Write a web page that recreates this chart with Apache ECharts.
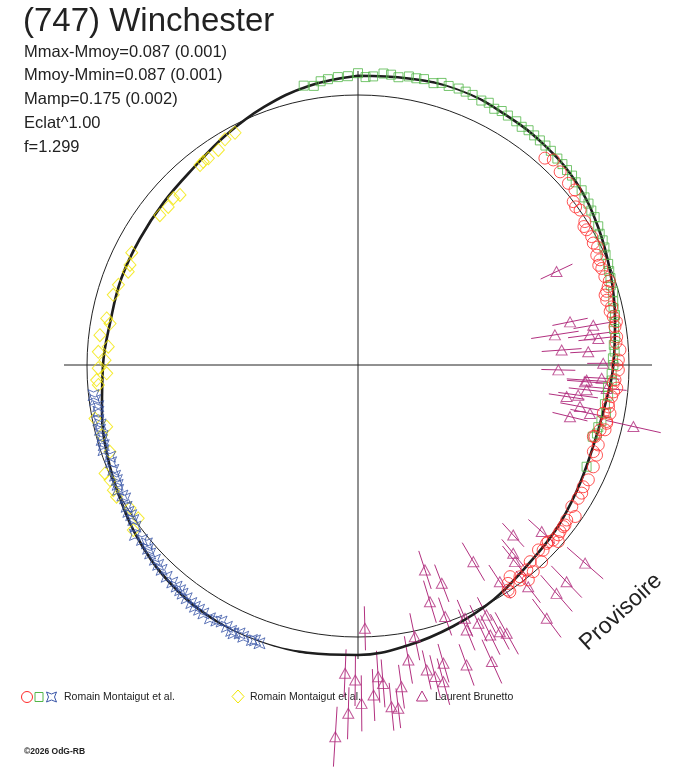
<!DOCTYPE html>
<html>
<head>
<meta charset="utf-8">
<script src="https://cdn.jsdelivr.net/npm/echarts@6/dist/echarts.min.js"></script>
<style>
html,body{margin:0;padding:0;background:#fff;}
#chart{width:688px;height:768px;}
</style>
</head>
<body>
<div id="chart"></div>
<script>
// points are [phase angle in degrees (0 = top, clockwise), relative magnitude]
// positive magnitude = fainter = drawn towards the centre
var fitCurve = [[0,-0.091],[10,-0.100],[20,-0.112],[30,-0.098],[40,-0.087],[50,-0.068],[60,-0.030],[70,0.012],[80,0.050],[90,0.078],[100,0.105],[110,0.110],[120,0.093],[130,0.067],[140,0.043],[150,0.000],[160,-0.035],[170,-0.069],[180,-0.095],[190,-0.106],[200,-0.115],[210,-0.107],[220,-0.086],[230,-0.053],[240,-0.012],[250,0.022],[260,0.055],[270,0.080],[280,0.098],[290,0.095],[300,0.095],[310,0.088],[320,0.072],[330,0.030],[340,-0.018],[350,-0.062],[360,-0.091]];

var greenPts = [[349,-0.068],[351,-0.058],[352.5,-0.076],[354,-0.082],[356,-0.088],[358,-0.090],[0,-0.104],[1.5,-0.085],[3,-0.090],[5,-0.108],[6.5,-0.106],[8,-0.098],[10,-0.110],[11.5,-0.108],[13,-0.112],[15,-0.104],[16.5,-0.116],[18,-0.112],[20,-0.116],[21.5,-0.114],[23,-0.112],[25,-0.104],[26.5,-0.110],[28,-0.096],[29.5,-0.104],[31,-0.100],[33,-0.098],[34.5,-0.090],[36,-0.096],[37.5,-0.092],[39,-0.090],[40.5,-0.088],[42,-0.086],[44,-0.080],[45.5,-0.078],[47,-0.074],[48.5,-0.074],[50,-0.066],[52,-0.064],[53.5,-0.054],[55,-0.052],[56.5,-0.044],[58,-0.040],[60,-0.032],[61.5,-0.020],[63,-0.018],[64.5,-0.010],[66,0.000],[68,0.006],[69.5,0.014],[71,0.020],[72.5,0.030],[74,0.028],[76,0.040],[77.5,0.046],[79,0.046],[80.5,0.056],[82,0.062],[84,0.062],[85.5,0.072],[87,0.070],[88.5,0.080],[90,0.078],[92,0.086],[93.5,0.084],[95,0.100],[97,0.095],[99,0.105],[101,0.092],[103,0.106],[104.5,0.114],[106,0.112],[107,0.128],[114,0.104]];

var redPts = [[42.1,-0.039],[43.6,-0.061],[46.3,-0.043],[49.2,-0.035],[51.1,-0.039],[52.8,0.004],[54,0.010],[55.1,0.001],[57.7,0.013],[58.5,0.030],[59.4,0.027],[61.2,0.022],[62.6,0.030],[63.8,0.020],[65.3,0.041],[66.5,0.036],[67.5,0.052],[68.4,0.044],[70.3,0.044],[71.5,0.030],[72.6,0.044],[73.5,0.058],[74.2,0.071],[75.4,0.070],[77.1,0.054],[78,0.066],[79.3,0.056],[80.5,0.045],[81.5,0.056],[83.8,0.054],[85,0.060],[86.7,0.043],[88.9,0.053],[90,0.060],[91.1,0.053],[93.3,0.068],[94.1,0.075],[95.1,0.056],[96,0.070],[97.1,0.077],[98.7,0.089],[99.5,0.085],[100.9,0.072],[101.1,0.105],[102.8,0.080],[103.2,0.078],[104.7,0.078],[105,0.102],[106.8,0.117],[106.9,0.125],[108.4,0.089],[110.2,0.101],[110.7,0.080],[113.4,0.073],[116.5,0.068],[118.4,0.075],[119.8,0.066],[121.2,0.068],[123.5,0.073],[124.9,0.031],[126.6,0.055],[127.7,0.047],[128.2,0.048],[129.5,0.046],[130.3,0.042],[131.4,0.020],[131.9,0.044],[132.9,0.057],[133.4,0.057],[135,0.046],[135.7,0.063],[137,0.009],[138.8,0.048],[139.7,0.000],[140.5,0.028],[141.6,-0.016],[142.6,0.022],[143,0.009],[144.3,0.052],[145.5,0.030],[146.2,-0.010],[146.3,0.002]];

var bluePts = [[263.5,0.024],[262.4,0.029],[261,0.040],[259.8,0.036],[258,0.028],[257,0.034],[255.9,0.025],[254.5,0.030],[253.7,0.020],[252.5,0.022],[251.5,0.013],[249.7,0.033],[248.5,0.028],[246.8,0.024],[245.5,0.020],[244.5,0.019],[243.5,0.012],[242.5,0.003],[241,0.008],[240.2,0.013],[238.5,-0.002],[237.4,-0.008],[236.5,-0.005],[235.4,-0.010],[234,-0.020],[232.7,-0.047],[231,-0.035],[229.8,-0.027],[228.8,-0.040],[227.8,-0.048],[226.2,-0.052],[225,-0.058],[223.8,-0.064],[222.1,-0.072],[220.5,-0.075],[219.3,-0.077],[218.3,-0.080],[217.5,-0.086],[216.3,-0.092],[215,-0.098],[214,-0.103],[213,-0.104],[211.9,-0.108],[210.3,-0.112],[209,-0.106],[208,-0.098],[206.6,-0.109],[205.5,-0.118],[204.9,-0.124],[203.8,-0.112],[202.9,-0.120],[201.1,-0.119],[200.5,-0.115],[199.5,-0.121]];

var yellowPts = [[332.1,0.041],[329.5,0.045],[327.0,0.073],[324.1,0.079],[322.7,0.078],[321.7,0.081],[313.7,0.124],[312.1,0.111],[309.8,0.120],[307.1,0.113],[296.4,0.092],[293.7,0.110],[292.1,0.115],[288.5,0.092],[286.0,0.082],[280.5,0.077],[279.5,0.098],[276.6,0.056],[274.2,0.103],[272.9,0.055],[271.1,0.090],[269.3,0.056],[268.1,0.098],[266.7,0.046],[265.6,0.053],[258.5,0.013],[256.2,0.061],[254.7,0.027],[250.7,0.041],[246.8,-0.021],[245.1,-0.012],[242.9,-0.019],[241.4,-0.020],[237.9,0.009],[235.1,0.015],[233.7,-0.039]];

// [angle, magnitude, error]
var brunettoPts = [[64.8,0.258,0.088],[78.5,0.273,0.09],[80.4,0.162,0.10],[81.3,0.359,0.12],[82.6,0.186,0.11],[83.7,0.146,0.10],[85.8,0.334,0.10],[86.7,0.202,0.09],[89.6,0.129,0.08],[91.4,0.353,0.085],[93.1,0.135,0.09],[93.8,0.209,0.10],[94.2,0.217,0.09],[95.4,0.106,0.10],[96.2,0.205,0.09],[97.8,0.244,0.10],[98.6,0.300,0.09],[100.6,0.226,0.10],[101.8,0.170,0.10],[102.6,-0.056,0.14],[103.7,0.264,0.09],
  [131.1,-0.152,0.12],[132.2,0.115,0.09],[136.1,-0.149,0.11],[137.6,0.204,0.08],[139.0,-0.158,0.12],[140.5,0.135,0.09],[141.4,0.097,0.10],[142.5,-0.043,0.10],[143.3,-0.224,0.12],[146.8,0.060,0.10],[149.6,0.215,0.11],[151.0,-0.179,0.12],[152.0,-0.156,0.10],[152.8,-0.051,0.10],[153.9,-0.148,0.11],[155.0,-0.070,0.10],[155.7,-0.272,0.12],[157.1,-0.020,0.10],[157.7,-0.077,0.11],[159.0,0.186,0.10],[160.1,-0.240,0.11],[160.9,0.024,0.10],[161.9,0.277,0.10],[163.1,0.118,0.11],[164.0,-0.196,0.10],[164.9,-0.285,0.12],[166.1,-0.250,0.11],[167.3,-0.208,0.10],[168.2,-0.033,0.12],[170.3,-0.141,0.12],[172.3,-0.268,0.11],[173.3,-0.373,0.10],[174.4,-0.362,0.12],[175.5,-0.242,0.12],[176.3,-0.207,0.13],[177.3,-0.297,0.13],[178.5,0.038,0.11],[179.4,-0.337,0.14],[180.5,-0.220,0.13],[181.6,-0.387,0.13],[182.4,-0.188,0.12],[183.5,-0.507,0.15]];

var statLines = ['Mmax-Mmoy=0.087 (0.001)', 'Mmoy-Mmin=0.087 (0.001)', 'Mamp=0.175 (0.002)', 'Eclat^1.00', 'f=1.299'];
var legendNames = ['Romain Montaigut et al.', 'Romain Montaigut et al.', 'Laurent Brunetto'];

var RED = '#ff2a2a', GREEN = '#52b648', BLUE = '#3a56a8', YELLOW = '#f2e600', MAGENTA = '#b2307f';
var FONT = '"Liberation Sans", Arial, sans-serif';
var starPath = 'path://M0,0L5,2.2L10,0L7.8,5L10,10L5,7.8L0,10L2.2,5Z';

function toPolar(list){ return list.map(function(p){ return [p[1], p[0]]; }); }
function hollow(c){ return {color:'rgba(0,0,0,0)', borderColor:c, borderWidth:1}; }

var myChart = echarts.init(document.getElementById('chart'), null, {renderer:'canvas'});

var graphic = [
    {type:'text', x:23, y:22, style:{text:'(747) Winchester', font:'33px ' + FONT, fill:'#222', verticalAlign:'middle'}}
];
statLines.forEach(function(s, i){
    graphic.push({type:'text', x:24, y:52 + i*23.8, style:{text:s, font:'16.5px ' + FONT, fill:'#222', verticalAlign:'middle'}});
});
// legend
graphic.push(
    {type:'circle', shape:{cx:27, cy:697, r:5.5}, style:{fill:'none', stroke:RED, lineWidth:1}},
    {type:'rect', shape:{x:35, y:692.5, width:8, height:9}, style:{fill:'none', stroke:GREEN, lineWidth:1}},
    {type:'polygon', shape:{points:[[46.5,692],[51.5,694],[56.5,692],[54.5,697],[56.5,702],[51.5,700],[46.5,702],[48.5,697]]}, style:{fill:'none', stroke:BLUE, lineWidth:1}},
    {type:'text', x:64, y:697, style:{text:legendNames[0], font:'10.5px ' + FONT, fill:'#222', verticalAlign:'middle'}},
    {type:'polygon', shape:{points:[[238,690],[244,696.5],[238,703],[232,696.5]]}, style:{fill:'none', stroke:YELLOW, lineWidth:1}},
    {type:'text', x:250, y:697, style:{text:legendNames[1], font:'10.5px ' + FONT, fill:'#222', verticalAlign:'middle'}},
    {type:'polygon', shape:{points:[[422,691],[427.5,701],[416.5,701]]}, style:{fill:'none', stroke:MAGENTA, lineWidth:1}},
    {type:'text', x:435, y:697, style:{text:legendNames[2], font:'10.5px ' + FONT, fill:'#222', verticalAlign:'middle'}},
    {type:'text', x:24, y:752, style:{text:'\u00a92026 OdG-RB', font:'bold 8.5px ' + FONT, fill:'#222', verticalAlign:'middle'}},
    {type:'text', x:621, y:612, rotation:0.74, style:{text:'Provisoire', font:'23px ' + FONT, fill:'#222', align:'center', verticalAlign:'middle'}}
);

var hidden = {axisLine:{show:false}, axisTick:{show:false}, axisLabel:{show:false}, splitLine:{show:false}};

var option = {
    animation: false,
    backgroundColor: '#fff',
    polar: [
        {center:[358, 365], radius:294},
        {center:[358, 366], radius:271}
    ],
    angleAxis: [
        {polarIndex:0, type:'value', min:0, max:360, interval:90, startAngle:90, clockwise:true,
         axisLine:{show:false}, axisTick:{show:false}, axisLabel:{show:false},
         splitLine:{show:true, lineStyle:{color:'#222', width:1}}},
        {polarIndex:1, type:'value', min:0, max:360, startAngle:90,
         axisLine:{show:true, lineStyle:{color:'#222', width:1}}, axisTick:{show:false}, axisLabel:{show:false}, splitLine:{show:false}}
    ],
    radiusAxis: [
        Object.assign({polarIndex:0, type:'value', min:-0.115, max:1.355, inverse:true}, hidden),
        Object.assign({polarIndex:1, type:'value', min:0, max:1}, hidden)
    ],
    graphic: graphic,
    series: [
        {
            name:'errors', type:'custom', coordinateSystem:'polar', polarIndex:0, silent:true, clip:false, z:1,
            data: brunettoPts.map(function(p){ return [p[1], p[0], p[2]]; }),
            encode:{radius:0, angle:1},
            renderItem: function(params, api){
                var m = api.value(0), a = api.value(1), e = api.value(2);
                var p1 = api.coord([m - e, a]), p2 = api.coord([m + e, a]);
                return {type:'line', shape:{x1:p1[0], y1:p1[1], x2:p2[0], y2:p2[1]}, style:{stroke:MAGENTA, lineWidth:1}};
            }
        },
        {
            name:'fit', type:'line', coordinateSystem:'polar', polarIndex:0, silent:true, clip:false, z:2,
            data: toPolar(fitCurve), smooth:0.4, symbol:'none', showSymbol:false,
            lineStyle:{color:'#1e1e1e', width:2.6}
        },
        {type:'scatter', coordinateSystem:'polar', polarIndex:0, silent:true, clip:false, z:3,
         data: toPolar(yellowPts), symbol:'diamond', symbolSize:[12,13], itemStyle:hollow(YELLOW)},
        {type:'scatter', coordinateSystem:'polar', polarIndex:0, silent:true, clip:false, z:3,
         data: toPolar(bluePts), symbol:starPath, symbolSize:11, itemStyle:hollow(BLUE)},
        {type:'scatter', coordinateSystem:'polar', polarIndex:0, silent:true, clip:false, z:3,
         data: brunettoPts.map(function(p){ return [p[1], p[0]]; }), symbol:'triangle', symbolSize:[11,10], itemStyle:hollow(MAGENTA)},
        {type:'scatter', coordinateSystem:'polar', polarIndex:0, silent:true, clip:false, z:3,
         data: toPolar(greenPts), symbol:'rect', symbolSize:9, itemStyle:hollow(GREEN)},
        {type:'scatter', coordinateSystem:'polar', polarIndex:0, silent:true, clip:false, z:3,
         data: toPolar(redPts), symbol:'circle', symbolSize:12, itemStyle:hollow(RED)}
    ]
};
myChart.setOption(option);
</script>
</body>
</html>
